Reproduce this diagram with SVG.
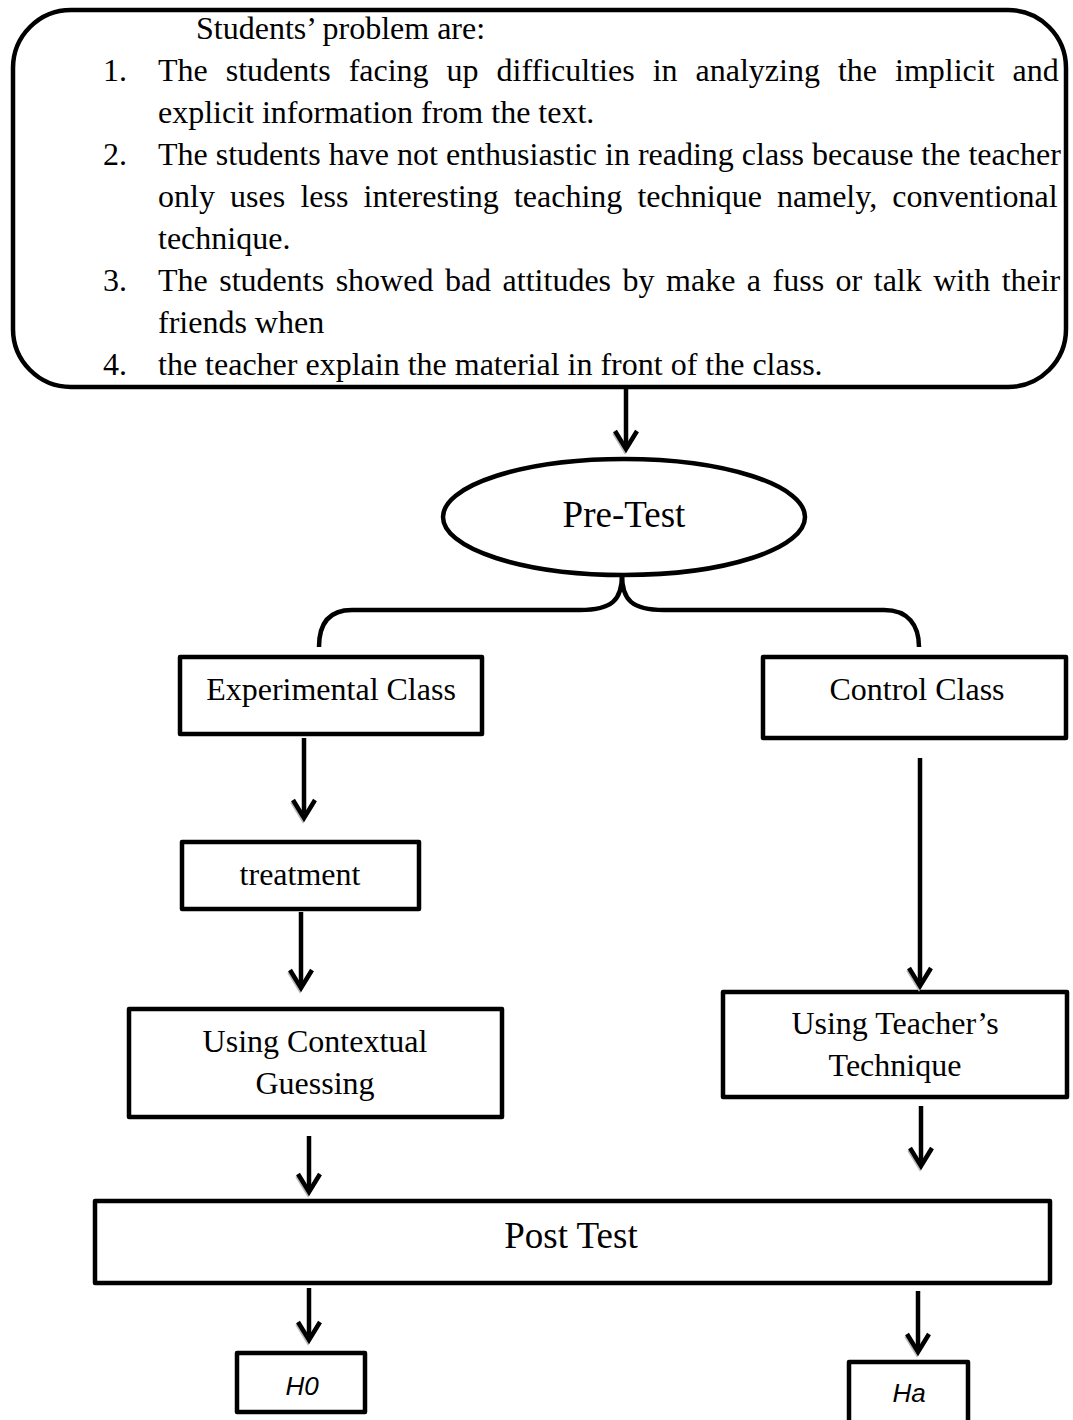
<svg xmlns="http://www.w3.org/2000/svg" width="1073" height="1420" viewBox="0 0 1073 1420">
<style>
.t{font-family:"Liberation Serif","Times New Roman",serif;font-size:32px;fill:#000;font-variant-ligatures:none}
.big{font-size:37px}
.c{text-anchor:middle}
.h{font-family:"Liberation Sans",Arial,sans-serif;font-style:italic;font-size:26px;fill:#000;text-anchor:middle}
.box{fill:#fff;stroke:#000;stroke-width:4.5;stroke-linejoin:round}
.con{fill:none;stroke:#000;stroke-width:4.5}
.arr{marker-end:url(#ah)}
</style>
<defs>
<marker id="ah" markerUnits="userSpaceOnUse" markerWidth="40" markerHeight="40" viewBox="-30 -20 40 40" refX="0" refY="0" orient="auto" overflow="visible">
<path d="M-16,-10 L2,1 L-16,12" fill="none" stroke="#bbb" stroke-width="4"/>
<path d="M-18,-11 L0,0 L-18,11" fill="none" stroke="#000" stroke-width="4.5"/>
</marker>
</defs>
<rect width="1073" height="1420" fill="#fff"/>

<g id="problems">
<rect x="13" y="10" width="1053" height="377" rx="58" ry="58" class="box" fill="none"/>
<text class="t" x="196" y="39">Students’ problem are:</text>
<text class="t" x="103" y="81">1.</text>
<text class="t" x="158" y="81" word-spacing="10">The students facing up difficulties in analyzing the implicit and</text>
<text class="t" x="158" y="123">explicit information from the text.</text>
<text class="t" x="103" y="165">2.</text>
<text class="t" x="158" y="165">The students have not enthusiastic in reading class because the teacher</text>
<text class="t" x="158" y="207" word-spacing="7.2">only uses less interesting teaching technique namely, conventional</text>
<text class="t" x="158" y="249">technique.</text>
<text class="t" x="103" y="291">3.</text>
<text class="t" x="158" y="291" word-spacing="3.5">The students showed bad attitudes by make a fuss or talk with their</text>
<text class="t" x="158" y="333">friends when</text>
<text class="t" x="103" y="375">4.</text>
<text class="t" x="158" y="375">the teacher explain the material in front of the class.</text>
</g>

<g id="pretest">
<ellipse cx="624" cy="517" rx="181" ry="58" class="box"/>
<text class="t big c" x="624" y="527">Pre-Test</text>
</g>

<g id="experimental">
<rect x="180" y="657" width="302" height="77" class="box"/>
<text class="t c" x="331" y="700">Experimental Class</text>
</g>

<g id="control">
<rect x="763" y="657" width="303" height="81" class="box"/>
<text class="t c" x="917" y="700">Control Class</text>
</g>

<g id="treatment">
<rect x="182" y="842" width="237" height="67" class="box"/>
<text class="t c" x="300" y="885">treatment</text>
</g>

<g id="contextual">
<rect x="129" y="1009" width="373" height="108" class="box"/>
<text class="t c" x="315" y="1052">Using Contextual</text>
<text class="t c" x="315" y="1094">Guessing</text>
</g>

<g id="teacher">
<rect x="723" y="992" width="344" height="105" class="box"/>
<text class="t c" x="895" y="1034">Using Teacher’s</text>
<text class="t c" x="895" y="1076">Technique</text>
</g>

<g id="posttest">
<rect x="95" y="1201" width="955" height="82" class="box"/>
<text class="t big c" x="571" y="1248">Post Test</text>
</g>

<g id="h0">
<rect x="237" y="1353" width="128" height="59" class="box"/>
<text class="h" x="302" y="1395">H0</text>
</g>

<g id="ha">
<rect x="849" y="1362" width="119" height="75" class="box"/>
<text class="h" x="909" y="1402">Ha</text>
</g>

<g id="connectors">
<line x1="626" y1="388" x2="626" y2="449" class="con arr"/>
<path d="M622,575 C622,600 612,610 580,610 L352,610 C328,610 319,625 319,647" class="con"/>
<path d="M622,575 C622,600 632,610 664,610 L884,610 C908,610 919,625 919,647" class="con"/>
<line x1="304" y1="738" x2="304" y2="818" class="con arr"/>
<line x1="301" y1="912" x2="301" y2="988" class="con arr"/>
<line x1="309" y1="1136" x2="309" y2="1192" class="con arr"/>
<line x1="920" y1="758" x2="920" y2="986" class="con arr"/>
<line x1="921" y1="1106" x2="921" y2="1166" class="con arr"/>
<line x1="309" y1="1288" x2="309" y2="1340" class="con arr"/>
<line x1="918" y1="1291" x2="918" y2="1352" class="con arr"/>
</g>
</svg>
